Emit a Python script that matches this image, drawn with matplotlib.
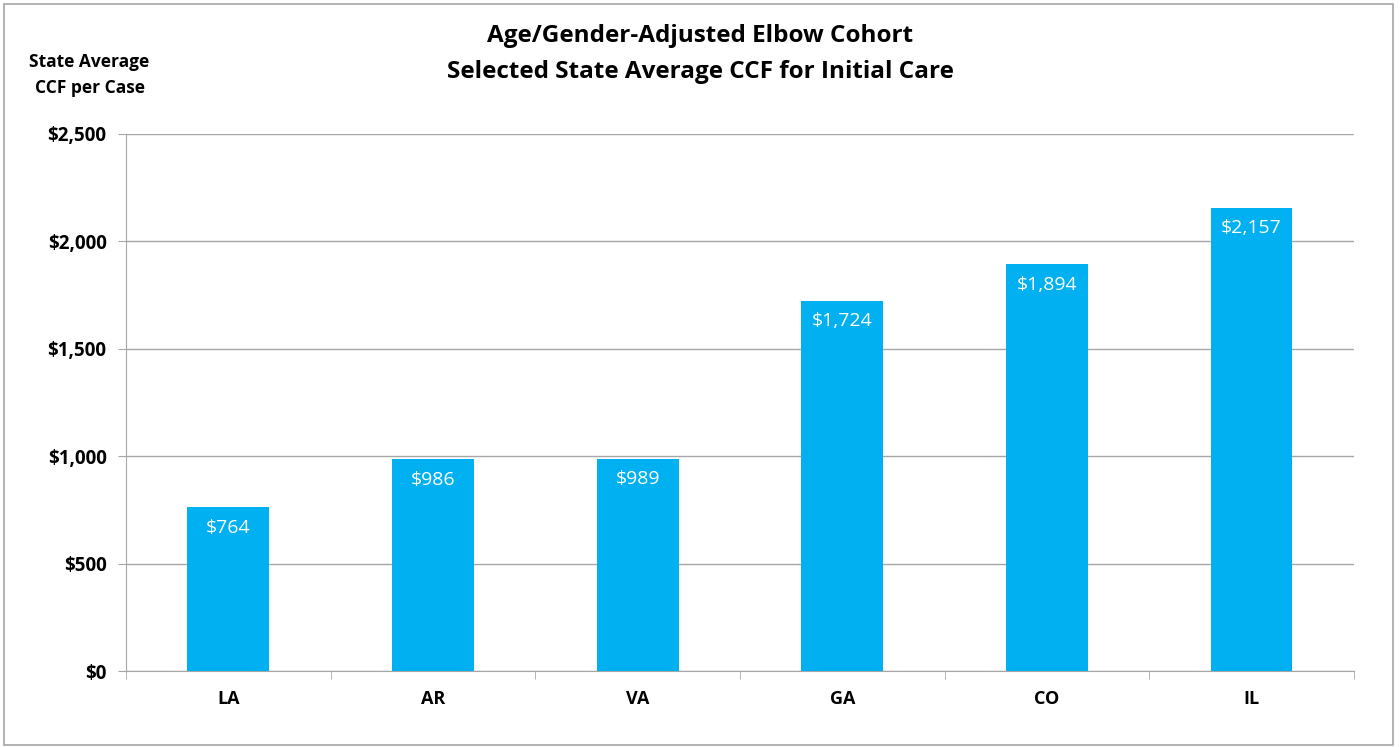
import matplotlib
matplotlib.use("Agg")
import matplotlib.pyplot as plt
from matplotlib.patches import Rectangle
from matplotlib.ticker import FuncFormatter, MultipleLocator, FixedLocator

states = ["LA", "AR", "VA", "GA", "CO", "IL"]
avg_ccf = [764, 986, 989, 1724, 1894, 2157]

plt.rcParams['font.family'] = ['Open Sans', 'DejaVu Sans']

fig = plt.figure(figsize=(14, 7.47), dpi=100)
ax = fig.add_axes([0.09, 0.1017, 0.877, 0.719])

x = list(range(len(states)))
bars = ax.bar(x, avg_ccf, width=0.4, color="#00B0F0", zorder=3)

# value labels inside the top of each bar
for b, v in zip(bars, avg_ccf):
    ax.text(b.get_x() + b.get_width() / 2, v - 55, f"${v:,}", ha="center", va="top",
            color="white", fontsize=14)

ax.set_xlim(-0.5, len(states) - 0.5)
ax.set_ylim(0, 2500)
ax.yaxis.set_major_locator(MultipleLocator(500))
ax.yaxis.set_major_formatter(FuncFormatter(lambda v, p: f"${v:,.0f}"))
ax.grid(axis="y", color="#a6a6a6", linewidth=1, zorder=0)

ax.set_xticks(x)
ax.set_xticklabels(states, fontweight="bold", fontsize=13)
ax.tick_params(axis="x", length=0, pad=14)
ax.xaxis.set_minor_locator(FixedLocator([i - 0.5 for i in range(len(states) + 1)]))
ax.tick_params(axis="x", which="minor", length=6, color="#a6a6a6")
ax.tick_params(axis="y", length=6, color="#a6a6a6", labelsize=13.5, pad=8)
for lab in ax.get_yticklabels():
    lab.set_fontweight("bold")

for s in ["top", "right"]:
    ax.spines[s].set_visible(False)
for s in ["left", "bottom"]:
    ax.spines[s].set_color("#a6a6a6")

fig.text(0.5, 0.968, "Age/Gender-Adjusted Elbow Cohort\nSelected State Average CCF for Initial Care",
         ha="center", va="top", fontsize=17.5, fontweight="bold", linespacing=1.65)
fig.text(0.064, 0.929, "State Average\nCCF per Case", ha="center", va="top",
         fontsize=12.5, fontweight="bold", linespacing=1.6)

fig.patches.append(Rectangle((0.003, 0.003), 0.992, 0.992, transform=fig.transFigure,
                             fill=False, edgecolor="#a6a6a6", linewidth=1.2))

fig.savefig("out.png", dpi=100)
